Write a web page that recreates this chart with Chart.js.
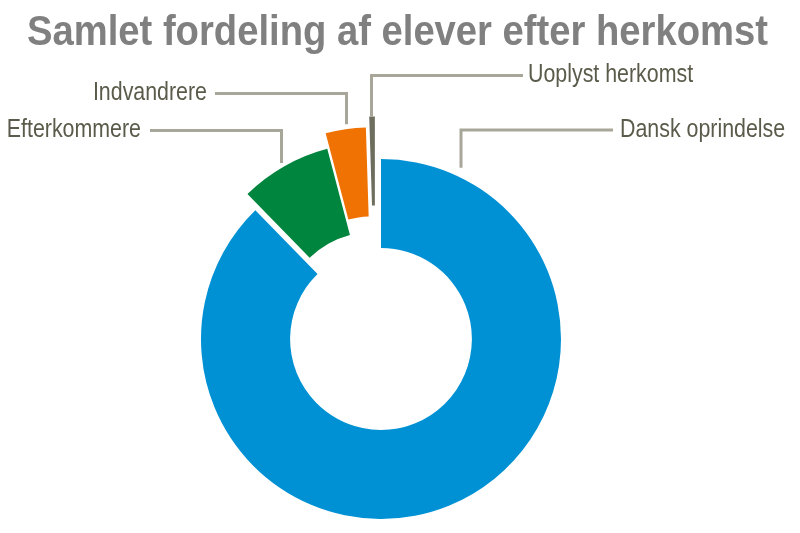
<!DOCTYPE html>
<html>
<head>
<meta charset="utf-8">
<style>
  html, body { margin: 0; padding: 0; background: #fff; }
  #wrap { width: 800px; height: 533px; }
</style>
</head>
<body>
<div id="wrap"><canvas id="herkomstChart" width="800" height="533"></canvas></div>

<script src="https://cdn.jsdelivr.net/npm/chart.js"></script>
<script>
  // andel af elever (%)
  const categories = ['Dansk oprindelse', 'Efterkommere', 'Indvandrere', 'Uoplyst herkomst'];
  const shares = [87.7, 8.2, 3.6, 0.5];
  const colors = ['#0091d5', '#00853e', '#ef7203', '#6e6e5e'];
  // udtrukne stykker: afstand (px) og lille drejning af retningen (grader mod uret)
  const explode = [0, 18, 33, 43];
  const explodeTilt = [0, -3.5, 8.4, 7.3];

  // placering af etiketter og hjælpelinjer
  const labelLayout = [
    { lineX: 461, lineY: 130, endX: 613, textX: 620, align: 'left', gap: 10 },
    { lineX: 281.5, lineY: 130.5, endX: 150, textX: 141, align: 'right', gap: 5 },
    { lineX: 346.5, lineY: 93.5, endX: 215, textX: 207, align: 'right', gap: 5 },
    { lineX: 371.5, lineY: 75.5, endX: 523, textX: 528, align: 'left', gap: 0 }
  ];

  const narrowText = (ctx, text, x, y, align, scale) => {
    ctx.save();
    ctx.translate(x, y);
    ctx.scale(scale, 1);
    ctx.textAlign = align;
    ctx.fillText(text, 0, 0);
    ctx.restore();
  };

  const shift = (arc, i) => {
    const dir = (arc.startAngle + arc.endAngle) / 2 - explodeTilt[i] * Math.PI / 180;
    return { dx: Math.cos(dir) * explode[i], dy: Math.sin(dir) * explode[i] };
  };

  // tegn hvert stykke forskudt ud fra midten
  const explodePlugin = {
    id: 'explode',
    beforeDatasetDraw(chart, args) {
      const ctx = chart.ctx;
      args.meta.data.forEach((arc, i) => {
        const s = shift(arc, i);
        ctx.save();
        ctx.translate(s.dx, s.dy);
        arc.draw(ctx, chart.chartArea);
        ctx.restore();
      });
      return false;
    }
  };

  const calloutPlugin = {
    id: 'callouts',
    afterDatasetsDraw(chart) {
      const ctx = chart.ctx;
      const arcs = chart.getDatasetMeta(0).data;

      // titel
      ctx.save();
      ctx.fillStyle = '#808080';
      ctx.font = 'bold 43px "Liberation Sans", Arial, sans-serif';
      ctx.textBaseline = 'alphabetic';
      const title = 'Samlet fordeling af elever efter herkomst';
      const tw = ctx.measureText(title).width;
      narrowText(ctx, title, 397.5, 45, 'center', 741 / tw);
      ctx.restore();

      arcs.forEach((arc, i) => {
        const L = labelLayout[i];
        const s = shift(arc, i);
        const cx = arc.x + s.dx;
        const cy = arc.y + s.dy;
        const r = arc.outerRadius;
        const dx = L.lineX - cx;
        const bottom = cy - Math.sqrt(Math.max(r * r - dx * dx, 0)) - L.gap;

        ctx.save();
        ctx.strokeStyle = '#a8a698';
        ctx.lineWidth = 3;
        ctx.beginPath();
        ctx.moveTo(L.lineX, bottom);
        ctx.lineTo(L.lineX, L.lineY);
        ctx.lineTo(L.endX, L.lineY);
        ctx.stroke();

        ctx.fillStyle = '#5b5b4b';
        ctx.font = '25px "Liberation Sans", Arial, sans-serif';
        ctx.textBaseline = 'middle';
        narrowText(ctx, categories[i], L.textX, L.lineY, L.align, 0.855);
        ctx.restore();
      });
    }
  };

  const ctx = document.getElementById('herkomstChart').getContext('2d');
  new Chart(ctx, {
    type: 'doughnut',
    data: {
      labels: categories,
      datasets: [{
        data: shares,
        backgroundColor: colors,
        borderWidth: 0,
        hoverOffset: 0
      }]
    },
    options: {
      responsive: false,
      animation: false,
      events: [],
      radius: 180,
      cutout: '50.5%',
      layout: { padding: { left: 0, right: 38, top: 145, bottom: 0 } },
      plugins: {
        legend: { display: false },
        title: { display: false },
        tooltip: { enabled: false }
      }
    },
    plugins: [explodePlugin, calloutPlugin]
  });
</script>
</body>
</html>
